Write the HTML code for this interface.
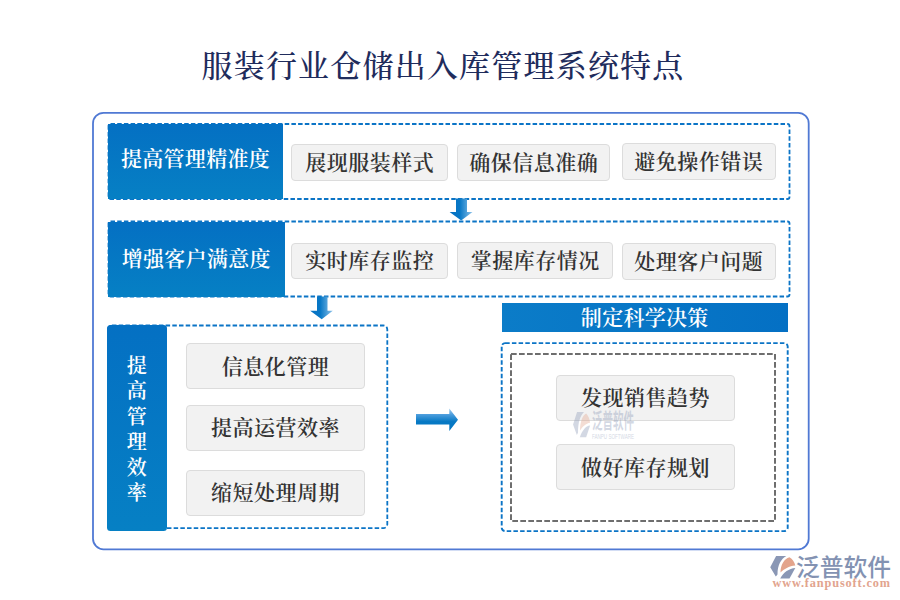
<!DOCTYPE html>
<html lang="zh-CN">
<head>
<meta charset="utf-8">
<title>服装行业仓储出入库管理系统特点</title>
<style>
html,body{margin:0;padding:0;background:#fff;}
body{width:900px;height:600px;position:relative;overflow:hidden;font-family:"Liberation Serif","Noto Serif CJK SC",serif;}
.abs{position:absolute;}
#title{left:201.500px;top:41px;height:52px;line-height:52px;white-space:nowrap;font-size:31px;color:#1f2c5c;font-weight:500;letter-spacing:1.2px;}
#outer{left:92px;top:112px;width:715px;height:435px;border:2px solid #6488dc;border-radius:12px;box-sizing:content-box;}
.blue{z-index:3;background:linear-gradient(180deg,#0470c3 0%,#0680c4 100%);color:#fff;font-weight:600;text-align:center;letter-spacing:0.3px;}
.btn{z-index:3;background:#f2f2f2;border:1px solid #dcdcdc;border-radius:4px;box-sizing:border-box;color:#333;font-weight:600;font-size:21px;letter-spacing:0.5px;text-indent:0.5px;text-align:center;}
.btn span{display:block;}
svg{position:absolute;left:0;top:0;}
</style>
</head>
<body>
<div id="title" class="abs">服装行业仓储出入库管理系统特点</div>

<!-- blue label blocks -->
<div class="abs blue" style="left:108px;top:124px;width:175px;height:75px;line-height:71px;font-size:21px;">提高管理精准度</div>
<div class="abs blue" style="left:108px;top:222px;width:176.500px;height:75px;line-height:74px;font-size:21px;">增强客户满意度</div>
<div class="abs blue" style="left:107px;top:325px;width:60px;height:206px;font-size:20px;line-height:25.4px;border-radius:3.500px;"><div style="margin-top:29px;">提<br>高<br>管<br>理<br>效<br>率</div></div>
<div class="abs blue" style="left:502px;top:303px;width:285.500px;height:29px;line-height:31px;font-size:21px;background:linear-gradient(90deg,#0b7cc8 0%,#0470c4 100%);">制定科学决策</div>

<!-- row 1 buttons -->
<div class="abs btn" style="left:291px;top:144px;width:157px;height:37px;line-height:36px;">展现服装样式</div>
<div class="abs btn" style="left:457px;top:143.500px;width:153px;height:37px;line-height:36px;">确保信息准确</div>
<div class="abs btn" style="left:621.500px;top:143px;width:154px;height:36.500px;line-height:36px;">避免操作错误</div>
<!-- row 2 buttons -->
<div class="abs btn" style="left:291px;top:242.500px;width:157px;height:36.500px;line-height:35px;">实时库存监控</div>
<div class="abs btn" style="left:457px;top:241.500px;width:156px;height:37px;line-height:36px;">掌握库存情况</div>
<div class="abs btn" style="left:621.500px;top:243px;width:154px;height:36.500px;line-height:36px;">处理客户问题</div>
<!-- left column buttons -->
<div class="abs btn" style="left:186px;top:343px;width:178.500px;height:46px;line-height:46.500px;">信息化管理</div>
<div class="abs btn" style="left:186px;top:405px;width:178.500px;height:45.500px;line-height:44.500px;">提高运营效率</div>
<div class="abs btn" style="left:186px;top:469.500px;width:178.500px;height:46px;line-height:45.500px;">缩短处理周期</div>
<!-- right buttons -->
<div class="abs btn" style="left:556px;top:374.500px;width:178.500px;height:46px;line-height:45.500px;">发现销售趋势</div>
<div class="abs btn" style="left:556px;top:443.500px;width:178.500px;height:46px;line-height:46px;">做好库存规划</div>

<svg width="900" height="600" viewBox="0 0 900 600">
<defs>
<linearGradient id="gv" x1="0" y1="0" x2="1" y2="0">
<stop offset="0" stop-color="#0470c2"/><stop offset="0.45" stop-color="#0878c6"/><stop offset="1" stop-color="#8cc2ea"/>
</linearGradient>
<linearGradient id="gh" x1="0" y1="0" x2="0" y2="1">
<stop offset="0" stop-color="#a0ccee"/><stop offset="0.28" stop-color="#4a9cdc"/><stop offset="0.58" stop-color="#0779c4"/><stop offset="1" stop-color="#0476c2"/>
</linearGradient>
</defs>
<rect x="93" y="112.9" width="715.7" height="436.4" rx="10.500" fill="none" stroke="#5079d4" stroke-width="1.8"/>
<g fill="none" stroke="#0b74c6" stroke-width="1.8" stroke-dasharray="4.5 2.2">
<rect x="108.500" y="124" width="681" height="75" rx="2"/>
<rect x="108.500" y="221.500" width="681" height="75" rx="2"/>
</g>
<g fill="none" stroke="#0b74c6" stroke-width="1.8" stroke-dasharray="4.5 2.2">
<rect x="108" y="325.500" width="279.300" height="202.700" rx="4"/>
</g>
<g fill="none" stroke="#0b74c6" stroke-width="1.9" stroke-dasharray="4.5 2.2">
<rect x="501.700" y="343.100" width="286" height="188" rx="3.500"/>
</g>
<rect x="511" y="354" width="264" height="167" fill="none" stroke="#6e6e6e" stroke-width="2" stroke-dasharray="5.7 2.3"/>
<!-- arrows -->
<path d="M456 198.500 H467 V212 H472.500 L461.200 220.400 L449.600 212 H456 Z" fill="url(#gv)"/>
<path d="M317 296.500 H327.500 V310.700 H332.800 L321.700 319.300 L310.200 310.700 H317 Z" fill="url(#gv)"/>
<path d="M416 414h33.3v-5.5l8.7 11.2-8.7 11.3v-6.5H416z" fill="url(#gh)"/>
</svg>

<!-- watermark -->
<svg class="wm" width="900" height="600" viewBox="0 0 900 600" style="z-index:5;opacity:0.37;">
<g transform="translate(569.500,405.300) scale(0.68,1.12)">
<path d="M5.250 17.200 L11.100 6 L21.300 6 C16 9 12.500 15 12.500 24.500 L10.800 26.500 Z" fill="#8a97b5"/>
<path d="M15.500 22.500 C15.500 15 19 9 24.500 7.300 C27.500 9 29.500 12 30.300 15.500 C24 16 19 19 15.500 22.500 Z" fill="#e3a48c"/>
<path d="M15.200 28.600 L24.500 28.600 L30.300 18.100 C24 18.500 18.500 22.500 15.200 28.600 Z" fill="#8a97b5"/>
</g>
<text transform="translate(592,427.500) scale(0.5,1)" font-family="'Liberation Sans','Noto Sans CJK SC',sans-serif" font-size="21" font-weight="700" fill="#8a97b5">泛普软件</text>
<text x="592" y="438.600" font-family="'Liberation Sans',sans-serif" font-size="7.400" fill="#8a97b5" textLength="42" lengthAdjust="spacingAndGlyphs">FANPU SOFTWARE</text>
</svg>

<!-- logo -->
<svg width="900" height="600" viewBox="0 0 900 600" style="z-index:5;">
<g transform="translate(765,550)">
<path d="M5.250 17.200 L11.100 6 L21.300 6 C16 9 12.500 15 12.500 24.500 L10.800 26.500 Z" fill="#8a97b5"/>
<path d="M15.500 22.500 C15.500 15 19 9 24.500 7.300 C27.500 9 29.500 12 30.300 15.500 C24 16 19 19 15.500 22.500 Z" fill="#e3a48c"/>
<path d="M15.200 28.600 L24.500 28.600 L30.300 18.100 C24 18.500 18.500 22.500 15.200 28.600 Z" fill="#8a97b5"/>
</g>
<text x="796" y="576.400" font-family="'Liberation Sans','Noto Sans CJK SC',sans-serif" font-size="23.500" font-weight="500" fill="#8392b2" textLength="95" lengthAdjust="spacingAndGlyphs">泛普软件</text>
<text x="772.400" y="586.500" font-family="'Liberation Serif',serif" font-size="12.300" font-weight="700" fill="#e2a48e" textLength="117.600" lengthAdjust="spacing">www.fanpusoft.com</text>
</svg>
</body>
</html>
